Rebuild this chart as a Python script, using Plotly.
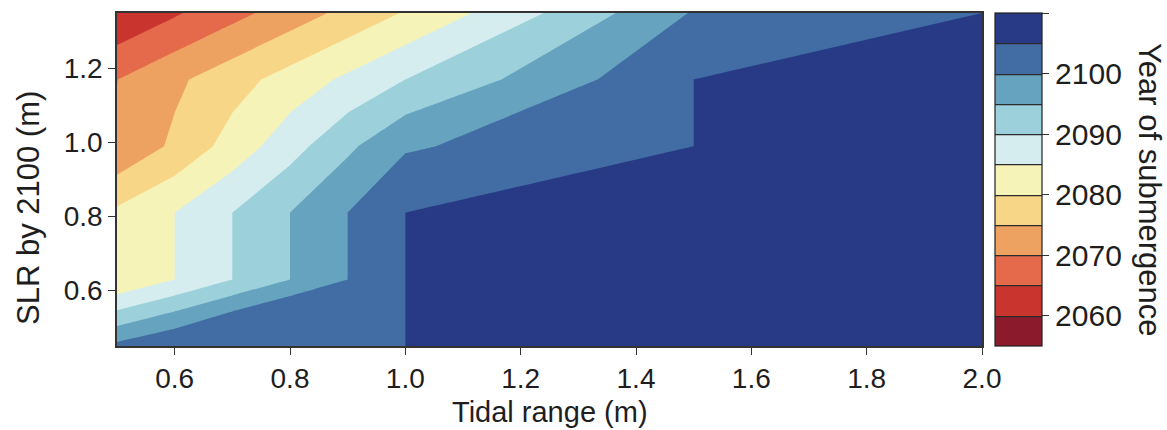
import plotly.graph_objects as go

# ---- data ----
tidal_range = [0.5, 0.6, 0.7, 0.8, 0.9, 1.0, 1.5, 2.0]          # x (m)
slr_2100 = [0.45, 0.54, 0.63, 0.81, 0.99, 1.17, 1.35]            # y (m)
year_of_submergence = [                                          # rows follow slr_2100
    [2101.3, 2105.0, 2105.0, 2105.0, 2105.0, 2105.0, 2110.0, 2110.0],
    [2090.8, 2095.4, 2100.4, 2105.0, 2105.0, 2105.0, 2110.0, 2110.0],
    [2080.4, 2085.0, 2090.0, 2095.0, 2100.0, 2105.0, 2110.0, 2110.0],
    [2081.0, 2085.0, 2090.0, 2095.0, 2100.0, 2105.0, 2110.0, 2110.0],
    [2070.5, 2076.0, 2082.0, 2088.0, 2094.0, 2099.4, 2105.0, 2110.0],
    [2069.95, 2074.0, 2078.0, 2082.0, 2086.0, 2090.0, 2105.0, 2110.0],
    [2060.4, 2064.4, 2068.4, 2072.4, 2076.4, 2080.4, 2100.4, 2105.0],
]
level_start, level_end, level_step = 2060, 2105, 5
cbar_min, cbar_max = 2055, 2110
band_colors = ["#8b1b2c", "#c9342f", "#e46a4b", "#eea262", "#f8d687", "#f6f3b8",
               "#d5edef", "#9cd0da", "#66a3bf", "#416da4", "#283a86"]
cbar_tickvals = [2060, 2070, 2080, 2090, 2100, 2110]
cbar_ticktext = ["2060", "2070", "2080", "2090", "2100", ""]
x_tickvals = [0.6, 0.8, 1.0, 1.2, 1.4, 1.6, 1.8, 2.0]
y_tickvals = [0.6, 0.8, 1.0, 1.2]

n = len(band_colors)
# colorscale for the filled bands (one colour per band)
fill_scale = [[i / (n - 1), c] for i, c in enumerate(band_colors)]
# stepped colorscale for the colorbar (equal bands from cbar_min to cbar_max)
step_scale = []
for i, c in enumerate(band_colors):
    step_scale.append([i / n, c])
    step_scale.append([(i + 1) / n, c])

contours = dict(start=level_start, end=level_end, size=level_step)
FONT = "Liberation Sans, Arial, sans-serif"
TXT = "#1e1e1e"

fig = go.Figure()
# trace carrying the colorbar (with thin band dividers), hidden beneath the main fill
fig.add_trace(go.Contour(
    x=tidal_range, y=slr_2100, z=year_of_submergence,
    autocontour=False, contours=dict(contours, coloring="heatmap", showlines=True),
    colorscale=step_scale, zmin=cbar_min, zmax=cbar_max,
    line=dict(width=1.2, color="#2b2b2b", smoothing=0),
    hoverinfo="skip",
    colorbar=dict(
        x=(995 - 117) / 865, xanchor="left", xpad=0, ypad=0,
        y=0.5, yanchor="middle", len=1, lenmode="fraction",
        thickness=47, thicknessmode="pixels",
        outlinewidth=1.2, outlinecolor="#222",
        ticks="outside", ticklen=7, tickwidth=1.2, tickcolor="#333",
        tickvals=cbar_tickvals, ticktext=cbar_ticktext,
        tickfont=dict(family=FONT, size=30, color=TXT),
    ),
))
fig.add_trace(go.Contour(
    x=tidal_range, y=slr_2100, z=year_of_submergence,
    autocontour=False, contours=dict(contours, coloring="fill", showlines=False),
    colorscale=fill_scale, line=dict(width=0, smoothing=0),
    showscale=False,
))

axis_common = dict(showgrid=False, zeroline=False, showline=True, mirror=True,
                   linecolor="#333", linewidth=1.5, ticks="outside", ticklen=7,
                   tickwidth=1.3, tickcolor="#333",
                   tickfont=dict(family=FONT, size=28, color=TXT))
fig.update_xaxes(range=[0.5, 2.0], tickvals=x_tickvals,
                 ticktext=[f"{v:.1f}" for v in x_tickvals], **axis_common)
fig.update_yaxes(range=[0.45, 1.35], tickvals=y_tickvals,
                 ticktext=[f"{v:.1f}" for v in y_tickvals], **axis_common)

fig.update_layout(
    width=1167, height=430,
    margin=dict(l=117, r=185, t=13, b=84),
    paper_bgcolor="white", plot_bgcolor="white",
    font=dict(family=FONT, color=TXT),
    showlegend=False,
    annotations=[
        dict(text="Tidal range (m)", xref="paper", yref="paper",
             x=0.5, y=(346 - 430) / 333, xanchor="center", yanchor="bottom",
             yshift=0, showarrow=False, font=dict(family=FONT, size=29, color=TXT)),
        dict(text="SLR by 2100 (m)", xref="paper", yref="paper",
             x=(28 - 117) / 865, y=(346 - 208) / 333, xanchor="center", yanchor="middle",
             textangle=-90, showarrow=False, font=dict(family=FONT, size=31, color=TXT)),
        dict(text="Year of submergence", xref="paper", yref="paper",
             x=(1150 - 117) / 865, y=(346 - 190) / 333, xanchor="center", yanchor="middle",
             textangle=90, showarrow=False, font=dict(family=FONT, size=31, color=TXT)),
    ],
)

fig.write_html("out.html")
